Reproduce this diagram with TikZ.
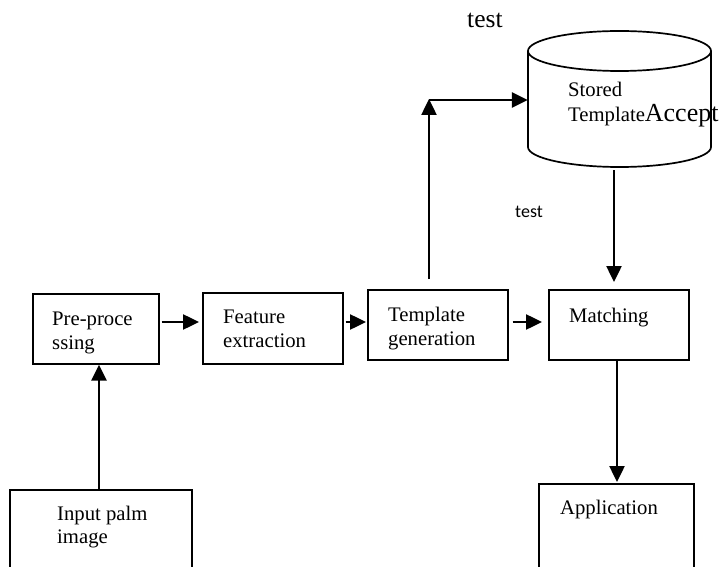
\documentclass[tikz,border=0pt]{standalone}
\usepackage{fontspec}
\setmainfont{Liberation Serif}
\newfontfamily\carlitofont{Carlito}
\usetikzlibrary{arrows.meta}
\begin{document}
\begin{tikzpicture}[x=1pt,y=-1pt,
  box/.style={draw, line width=1.7pt, inner sep=0pt, anchor=north west},
  txt/.style={inner sep=0pt, anchor=base west, font=\fontsize{20.7}{24}\selectfont},
  arr/.style={line width=2.5pt, -{Triangle[length=16pt,width=15pt]}}]
\clip (0,0) rectangle (721,567);
% boxes
\node[box, minimum width=126pt, minimum height=70pt] (pre) at (32,293) {};
\node[box, minimum width=140pt, minimum height=71pt] (feat) at (202,292) {};
\node[box, minimum width=140pt, minimum height=70pt] (tmpl) at (367,289) {};
\node[box, minimum width=140pt, minimum height=70pt] (match) at (548,289) {};
\node[box, minimum width=182pt, minimum height=100pt] (in) at (9,489) {};
\node[box, minimum width=155pt, minimum height=100pt] (app) at (538,483) {};
% stored template cylinder
\node[inner sep=0pt, minimum width=183pt, minimum height=136pt] (store) at (619.5,99) {};
\draw[line width=1.7pt] (619.5,51) ellipse [x radius=91.5pt, y radius=20pt];
\draw[line width=1.7pt] (528,51) -- (528,147)
  arc[start angle=180, end angle=360, x radius=91.5pt, y radius=20pt] -- (711,51);
% texts
\node[inner sep=0pt, anchor=base west, font=\fontsize{25.5}{30}\selectfont] (t1) at (467,28) {test};
\node[inner sep=0pt, anchor=base west, font=\carlitofont\fontsize{18}{22}\selectfont] (t2) at (515,218) {test};
\node[txt] (st1) at (568,97) {Stored};
\node[txt] (st2) at (568,122) {Template{\fontsize{26}{30}\selectfont Accept}};
\node[txt] (pre1) at (52,325) {Pre-proce};
\node[txt] (pre2) at (52,349) {ssing};
\node[txt] (feat1) at (223,323) {Feature};
\node[txt] (feat2) at (223,347) {extraction};
\node[txt] (tmpl1) at (388,321) {Template};
\node[txt] (tmpl2) at (388,345) {generation};
\node[txt] (match1) at (569,322) {Matching};
\node[txt] (in1) at (57,520) {Input palm};
\node[txt] (in2) at (57,543) {image};
\node[txt] (app1) at (560,514) {Application};
% connectors
\coordinate (row) at (0,322);
\coordinate (bend) at (429,100);
\coordinate (upx) at (99,0);
\coordinate (dnx) at (614,0);
\coordinate (appx) at (617,0);
\draw[arr] (in.north -| upx) -- (pre.south -| upx);
\draw[arr, shorten <=2pt, shorten >=3pt] (pre.east |- row) -- (feat.west |- row);
\draw[arr, shorten <=2pt, shorten >=1pt] (feat.east |- row) -- (tmpl.west |- row);
\draw[arr, shorten <=4pt, shorten >=6pt] (tmpl.east |- row) -- (match.west |- row);
\draw[arr, shorten <=10pt, shorten >=-1pt] (tmpl.north -| bend) -- (bend);
\draw[arr] (bend) -- (store.west |- bend);
\draw[arr, shorten <=3pt, shorten >=7pt] (store.south -| dnx) -- (match.north -| dnx);
\draw[arr, shorten >=1pt] (match.south -| appx) -- (app.north -| appx);
\end{tikzpicture}
\end{document}
